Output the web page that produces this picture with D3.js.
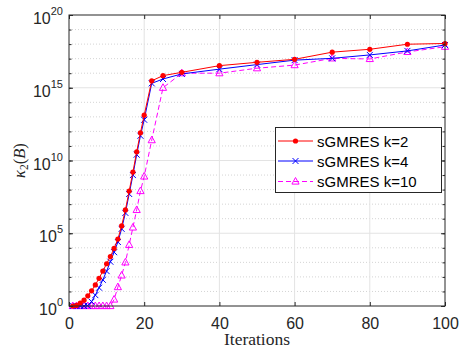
<!DOCTYPE html>
<html>
<head>
<meta charset="utf-8">
<script src="https://cdn.jsdelivr.net/npm/d3@7"></script>
<style>
  body { margin: 0; background: #fff; }
  svg { display: block; }
</style>
</head>
<body>
<script>
// Iterations (x) for every series
const iters = [1, 2, 3, 4, 5, 6, 7, 8, 9, 10, 11, 12, 13, 14, 15, 16, 17, 18, 19, 20,
               22, 25, 30, 40, 50, 60, 70, 80, 90, 100]
// kappa_2(B) for k=2
const k2 = [1, 1.1, 1.6, 2.5, 5, 11, 28, 80, 250, 800, 2500, 9e3, 4e4, 3.2e5, 4e6, 8e7, 1.6e9, 4e10, 8e11, 1.3e13,
            3e15, 6.8e15, 1.15e16, 3.3e16, 5.6e16, 9e16, 2.8e17, 4.4e17, 9.8e17, 1.1e18]
// kappa_2(B) for k=4
const k4 = [1, 1, 1, 1, 1.05, 2, 5.6, 18, 63, 250, 1.1e3, 5e3, 2.5e4, 2e5, 2.5e6, 5e7, 1e9, 2.5e10, 5e11, 6.3e12,
            2e15, 4e15, 8.9e15, 1.9e16, 3.9e16, 7.9e16, 1.05e17, 1.8e17, 3.4e17, 8.7e17]
// kappa_2(B) for k=10
const k10 = [1, 1, 1, 1, 1, 1, 1, 1, 1, 1, 1, 2.8, 20, 126, 1e3, 1.6e4, 2.5e5, 4e6, 8e7, 8e8,
             2.5e11, 1e15, 1e16, 1e16, 2.2e16, 3.6e16, 1.05e17, 9.5e16, 2.9e17, 6.6e17]

const seriesNames = ['sGMRES k=2', 'sGMRES k=4', 'sGMRES k=10']
const xTicks = [0, 20, 40, 60, 80, 100]
const yTicks = [1e0, 1e5, 1e10, 1e15, 1e20]
const yTickExp = ['0', '5', '10', '15', '20']

// Global sizes
var width  = 460
var height = 348
var pLeft = 69, pRight = 445, pTop = 15, pBottom = 306
var axisColor = '#262626'

var x = d3.scaleLinear().domain([0, 100]).range([pLeft, pRight])
var y = d3.scaleLog().domain([1, 1e20]).range([pBottom, pTop])

let svg = d3.select('body').append('svg')
            .attr('width', width).attr('height', height)

// Grid: dotted minor lines at every decade, solid at major ticks
var decades = d3.range(1, 20).map(e => Math.pow(10, e))
svg.append('g').selectAll('line')
   .data(decades.filter(d => !yTicks.includes(d)))
   .enter().append('line')
   .attr('x1', pLeft).attr('x2', pRight)
   .attr('y1', d => y(d)).attr('y2', d => y(d))
   .attr('stroke', '#d4d4d4').attr('stroke-width', 1)
   .attr('stroke-dasharray', '1,2')
svg.append('g').selectAll('line')
   .data(yTicks.slice(1, -1))
   .enter().append('line')
   .attr('x1', pLeft).attr('x2', pRight)
   .attr('y1', d => y(d)).attr('y2', d => y(d))
   .attr('stroke', '#e3e3e3').attr('stroke-width', 1)
svg.append('g').selectAll('line')
   .data(xTicks.slice(1, -1))
   .enter().append('line')
   .attr('x1', d => x(d)).attr('x2', d => x(d))
   .attr('y1', pTop).attr('y2', pBottom)
   .attr('stroke', '#e3e3e3').attr('stroke-width', 1)

// Series
var series = [
    {name: seriesNames[0], vals: k2,  color: '#ff0000', dash: null,  marker: 'dot'},
    {name: seriesNames[1], vals: k4,  color: '#0000ff', dash: null,  marker: 'x'},
    {name: seriesNames[2], vals: k10, color: '#ff00ff', dash: '5,3', marker: 'tri'}
]
var line = d3.line().x(d => x(d[0])).y(d => y(d[1]))

var drawMarker = function(g, m, color){
    if (m === 'dot') {
        g.append('circle').attr('r', 2.6).attr('fill', color)
    } else if (m === 'x') {
        g.append('path').attr('d', 'M-3,-3L3,3M-3,3L3,-3')
         .attr('stroke', color).attr('stroke-width', 1).attr('fill', 'none')
    } else {
        g.append('path').attr('d', 'M0,-4L3.6,2.6L-3.6,2.6Z')
         .attr('stroke', color).attr('stroke-width', 1).attr('fill', 'none')
    }
}

series.slice().reverse().forEach(s => {
    let pts = iters.map((it, i) => [it, s.vals[i]])
    svg.append('path').datum(pts)
       .attr('d', line)
       .attr('fill', 'none')
       .attr('stroke', s.color).attr('stroke-width', 1)
       .attr('stroke-dasharray', s.dash)
    svg.append('g').selectAll('g')
       .data(pts).enter().append('g')
       .attr('transform', d => `translate(${x(d[0])},${y(d[1])})`)
       .each(function(){ drawMarker(d3.select(this), s.marker, s.color) })
})

// Axes (ticks pointing inward, box on)
var axFont = '"Liberation Sans", Arial, Helvetica, sans-serif'
let gx = svg.append('g').attr('transform', `translate(0,${pBottom})`)
            .call(d3.axisBottom(x).tickValues(xTicks).tickSize(-4).tickPadding(12).tickSizeOuter(0))
gx.selectAll('text').attr('font-size', '16px').attr('font-family', axFont).attr('fill', axisColor)
svg.append('g').attr('transform', `translate(0,${pTop})`)
   .call(d3.axisTop(x).tickValues(xTicks).tickSize(-4).tickFormat('').tickSizeOuter(0))

svg.append('g').attr('transform', `translate(${pLeft},0)`)
   .call(d3.axisLeft(y).tickValues(yTicks).tickSize(-4).tickFormat('').tickSizeOuter(0))
svg.append('g').attr('transform', `translate(${pLeft},0)`)
   .call(d3.axisLeft(y).tickValues(decades).tickSize(-2.5).tickFormat('').tickSizeOuter(0))
svg.append('g').attr('transform', `translate(${pRight},0)`)
   .call(d3.axisRight(y).tickValues(yTicks).tickSize(-4).tickFormat('').tickSizeOuter(0))
svg.append('g').attr('transform', `translate(${pRight},0)`)
   .call(d3.axisRight(y).tickValues(decades).tickSize(-2.5).tickFormat('').tickSizeOuter(0))

svg.selectAll('.domain').remove()
svg.selectAll('.tick line').attr('stroke', axisColor)
svg.append('rect')
   .attr('x', pLeft).attr('y', pTop)
   .attr('width', pRight - pLeft).attr('height', pBottom - pTop)
   .attr('fill', 'none').attr('stroke', axisColor).attr('stroke-width', 1)

// Y tick labels as 10^n
let yl = svg.append('g').selectAll('text')
            .data(yTicks).enter().append('text')
            .attr('x', 63).attr('y', d => y(d) + 9)
            .attr('text-anchor', 'end')
            .attr('font-family', axFont).attr('fill', axisColor)
yl.append('tspan').attr('font-size', '16px').text('10')
yl.append('tspan').attr('font-size', '11px').attr('dy', -9).text((d, i) => yTickExp[i])

// Axis titles
var serif = '"Liberation Serif", "DejaVu Serif", serif'
svg.append('text')
   .attr('x', (pLeft + pRight) / 2).attr('y', 345)
   .attr('text-anchor', 'middle')
   .attr('font-family', serif).attr('font-size', '17.5px').attr('fill', axisColor)
   .text('Iterations')
let ylab = svg.append('text')
   .attr('transform', `translate(25,${(pTop + pBottom) / 2}) rotate(-90)`)
   .attr('text-anchor', 'middle')
   .attr('font-family', serif).attr('font-size', '16.5px').attr('fill', axisColor)
ylab.append('tspan').attr('font-style', 'italic').text('κ')
ylab.append('tspan').attr('font-size', '11.5px').attr('dy', 3).text('2')
ylab.append('tspan').attr('dy', -3).text('(')
ylab.append('tspan').attr('font-style', 'italic').text('B')
ylab.append('tspan').text(')')

// Legend
let lg = svg.append('g')
lg.append('rect')
  .attr('x', 275.5).attr('y', 127.5).attr('width', 166).attr('height', 65)
  .attr('fill', '#fff').attr('stroke', axisColor).attr('stroke-width', 1)
var rowY = [141, 161, 181.5]
series.forEach((s, i) => {
    lg.append('line')
      .attr('x1', 278).attr('x2', 313)
      .attr('y1', rowY[i]).attr('y2', rowY[i])
      .attr('stroke', s.color).attr('stroke-width', 1)
      .attr('stroke-dasharray', s.dash)
    let m = lg.append('g').attr('transform', `translate(295.5,${rowY[i]})`)
    drawMarker(m, s.marker, s.color)
    lg.append('text')
      .attr('x', 317).attr('y', rowY[i] + 5.5)
      .attr('font-family', axFont).attr('font-size', '15px').attr('fill', '#000')
      .text(s.name)
})
</script>
</body>
</html>
